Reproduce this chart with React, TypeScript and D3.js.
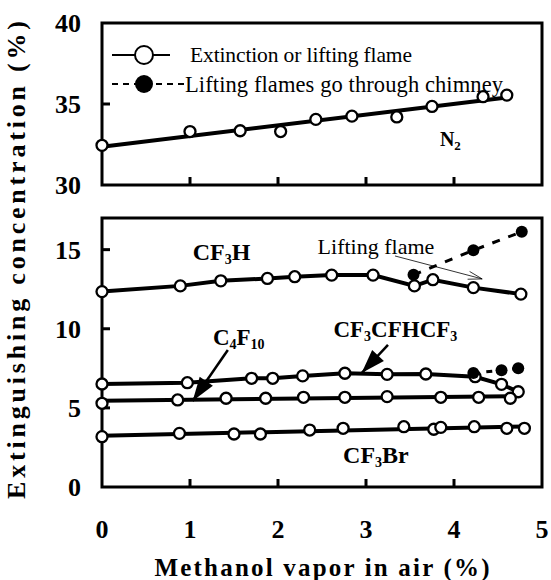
import React from 'react'
import * as d3 from 'd3'

// methanol vapor in air (%) and extinguishing concentration (%) per agent
const n2X = [0, 1.0, 1.57, 2.03, 2.43, 2.84, 3.35, 3.75, 4.33, 4.6]
const n2Y = [32.45, 33.3, 33.35, 33.3, 34.05, 34.25, 34.2, 34.85, 35.45, 35.55]

const cf3hX = [0, 0.89, 1.35, 1.88, 2.19, 2.61, 3.08, 3.55, 3.76, 4.22, 4.76]
const cf3hY = [12.35, 12.71, 13.03, 13.18, 13.29, 13.39, 13.39, 12.71, 13.1, 12.6, 12.19]
const cf3hLiftX = [3.54, 4.22, 4.77]
const cf3hLiftY = [13.41, 14.96, 16.13]

const hfpX = [0, 0.97, 1.7, 1.94, 2.28, 2.76, 3.24, 3.68, 4.24, 4.54, 4.73]
const hfpY = [6.51, 6.59, 6.87, 6.87, 7.02, 7.19, 7.12, 7.14, 6.97, 6.49, 6.02]
const hfpLiftX = [4.22, 4.54, 4.73]
const hfpLiftY = [7.2, 7.38, 7.5]

const c4f10X = [0, 0.86, 1.41, 1.86, 2.29, 2.76, 3.24, 3.85, 4.28, 4.64]
const c4f10Y = [5.29, 5.5, 5.61, 5.61, 5.67, 5.67, 5.71, 5.67, 5.67, 5.61]

const cf3brX = [0, 0.88, 1.5, 1.8, 2.36, 2.74, 3.43, 3.77, 3.85, 4.23, 4.6, 4.8]
const cf3brY = [3.18, 3.39, 3.35, 3.35, 3.6, 3.71, 3.81, 3.65, 3.77, 3.81, 3.71, 3.71]

const xTickLabels = [0, 1, 2, 3, 4, 5]
const topTickLabels = [30, 35, 40]
const botTickLabels = [0, 5, 10, 15]

const FONT = "'Liberation Serif', 'Times New Roman', serif"

function fit(xs: number[], ys: number[]) {
  const mx = d3.mean(xs)!, my = d3.mean(ys)!
  let sxy = 0, sxx = 0
  xs.forEach((v, i) => { sxy += (v - mx) * (ys[i] - my); sxx += (v - mx) * (v - mx) })
  const b = sxy / sxx
  const a = my - b * mx
  return [[0, a], [d3.max(xs)!, a + b * d3.max(xs)!]]
}

function arrowHead(x1: number, y1: number, x2: number, y2: number, len: number, half: number) {
  const ang = Math.atan2(y2 - y1, x2 - x1)
  const bx = x2 - len * Math.cos(ang), by = y2 - len * Math.sin(ang)
  const px = -Math.sin(ang) * half, py = Math.cos(ang) * half
  return [[x2, y2], [bx + px, by + py], [bx - px, by - py]]
}

export default function App() {
  const x = d3.scaleLinear().domain([0, 5]).range([102, 542])
  const yTop = d3.scaleLinear().domain([30, 40]).range([185, 23])
  const yBot = d3.scaleLinear().domain([0, 17]).range([487, 218])

  const lineTop = d3.line<number[]>().x(d => x(d[0])).y(d => yTop(d[1]))
  const lineBot = d3.line<number[]>().x(d => x(d[0])).y(d => yBot(d[1]))
  const zip = (a: number[], b: number[]) => a.map((v, i) => [v, b[i]])

  const openPts = (xs: number[], ys: number[], sc: any) =>
    xs.map((v, i) => (
      <circle key={i} cx={x(v)} cy={sc(ys[i])} r={5.5} fill="white" stroke="black" strokeWidth={2.3} />
    ))
  const fillPts = (xs: number[], ys: number[]) =>
    xs.map((v, i) => <circle key={i} cx={x(v)} cy={yBot(ys[i])} r={6} fill="black" />)

  const frame = (y0: number, y1: number) => (
    <rect x={x(0)} y={y1} width={x(5) - x(0)} height={y0 - y1} fill="none" stroke="black" strokeWidth={3} />
  )

  // annotation arrows (data units of the lower panel)
  const c4Arrow = [[1.43, 8.66], [1.03, 5.44]].map(d => [x(d[0]), yBot(d[1])])
  const hfpArrow = [[3.25, 8.98], [2.95, 7.2]].map(d => [x(d[0]), yBot(d[1])])
  const liftArrow = [[3.33, 14.6], [4.32, 13.15]].map(d => [x(d[0]), yBot(d[1])])

  const bold = { fontFamily: FONT, fontWeight: 'bold' as const }
  const sub = (t: string, size = 14) => <tspan fontSize={size} dy={4}>{t}</tspan>
  const up = (t: string) => <tspan dy={-4}>{t}</tspan>

  return (
    <svg width={551} height={580} style={{ position: 'absolute', left: 0, top: 0, background: 'white' }}>
      <rect width={551} height={580} fill="white" />
      {frame(yTop(30), yTop(40))}
      {frame(yBot(0), yBot(17))}

      {/* ticks */}
      {[1, 2, 3, 4].map(t => (
        <g key={t}>
          <line x1={x(t)} x2={x(t)} y1={yTop(30)} y2={yTop(30) - 8} stroke="black" strokeWidth={3} />
          <line x1={x(t)} x2={x(t)} y1={yBot(0)} y2={yBot(0) - 8} stroke="black" strokeWidth={3} />
        </g>
      ))}
      <line x1={x(0)} x2={x(0) + 8} y1={yTop(35)} y2={yTop(35)} stroke="black" strokeWidth={3} />
      {[5, 10, 15].map(t => (
        <line key={t} x1={x(0)} x2={x(0) + 8} y1={yBot(t)} y2={yBot(t)} stroke="black" strokeWidth={3} />
      ))}

      {/* tick labels */}
      {topTickLabels.map(t => (
        <text key={t} x={81} y={yTop(t) + 9} textAnchor="end" fontSize={26} {...bold}>{t}</text>
      ))}
      {botTickLabels.map(t => (
        <text key={t} x={81} y={yBot(t) + 9} textAnchor="end" fontSize={26} {...bold}>{t}</text>
      ))}
      {xTickLabels.map(t => (
        <text key={t} x={x(t)} y={538} textAnchor="middle" fontSize={26} {...bold}>{t}</text>
      ))}

      <text x={322} y={576} textAnchor="middle" fontSize={25} textLength={335} lengthAdjust="spacing" {...bold}>
        Methanol vapor in air (%)
      </text>
      <text transform="translate(25,260) rotate(-90)" textAnchor="middle" fontSize={26} textLength={478}
        lengthAdjust="spacing" {...bold}>
        Extinguishing concentration (%)
      </text>

      {/* N2 */}
      <path d={lineTop(fit(n2X, n2Y))!} stroke="black" strokeWidth={4} fill="none" />
      {openPts(n2X, n2Y, yTop)}
      <text x={x(3.84)} y={yTop(32.4)} fontSize={20} {...bold}>N{sub('2', 13)}</text>

      {/* legend */}
      <line x1={112} x2={170} y1={55} y2={55} stroke="black" strokeWidth={2} />
      <circle cx={144} cy={55} r={9} fill="white" stroke="black" strokeWidth={2} />
      <text x={190} y={62} fontSize={21.5} fontFamily={FONT} textLength={222} lengthAdjust="spacing">Extinction or lifting flame</text>
      <line x1={112} x2={184} y1={84} y2={84} stroke="black" strokeWidth={2} strokeDasharray="6,5" />
      <circle cx={144} cy={84} r={9} fill="black" />
      <text x={185} y={92} fontSize={22.5} fontFamily={FONT} textLength={318} lengthAdjust="spacing">Lifting flames go through chimney</text>

      {/* lower panel lines */}
      <path d={lineBot(zip(cf3hX, cf3hY))!} stroke="black" strokeWidth={4} fill="none" />
      <path d={lineBot(zip(hfpX, hfpY))!} stroke="black" strokeWidth={4} fill="none" />
      <path d={lineBot(fit(c4f10X, c4f10Y))!} stroke="black" strokeWidth={4} fill="none" />
      <path d={lineBot(fit(cf3brX, cf3brY))!} stroke="black" strokeWidth={4} fill="none" />
      <path d={lineBot(zip(cf3hLiftX, cf3hLiftY))!} stroke="black" strokeWidth={3} fill="none" strokeDasharray="8,9" />
      <path d={lineBot(zip(hfpLiftX, hfpLiftY))!} stroke="black" strokeWidth={3} fill="none" strokeDasharray="6,7" />

      {openPts(cf3hX, cf3hY, yBot)}
      {openPts(hfpX, hfpY, yBot)}
      {openPts(c4f10X, c4f10Y, yBot)}
      {openPts(cf3brX, cf3brY, yBot)}
      {fillPts(cf3hLiftX, cf3hLiftY)}
      {fillPts(hfpLiftX, hfpLiftY)}

      {/* arrows */}
      {[c4Arrow, hfpArrow].map((a, i) => (
        <g key={i}>
          <line x1={a[0][0]} y1={a[0][1]} x2={a[1][0]} y2={a[1][1]} stroke="black" strokeWidth={2.5} />
          <polygon points={arrowHead(a[0][0], a[0][1], a[1][0], a[1][1], 24, 8).join(' ')} fill="black" />
        </g>
      ))}
      <line x1={liftArrow[0][0]} y1={liftArrow[0][1]} x2={liftArrow[1][0]} y2={liftArrow[1][1]} stroke="black" strokeWidth={0.8} />
      <polyline
        points={(() => {
          const h = arrowHead(liftArrow[0][0], liftArrow[0][1], liftArrow[1][0], liftArrow[1][1], 14, 4)
          return [h[1], h[0], h[2]].join(' ')
        })()}
        fill="none" stroke="black" strokeWidth={0.8} />

      {/* labels */}
      <text x={x(1.03)} y={yBot(14.35)} fontSize={24} {...bold}>CF{sub('3')}{up('H')}</text>
      <text x={x(2.45)} y={yBot(14.73)} fontSize={22} fontFamily={FONT}>Lifting flame</text>
      <text x={x(2.63)} y={yBot(9.48)} fontSize={23} {...bold}>CF{sub('3')}{up('CFHCF')}{sub('3')}</text>
      <text x={x(1.26)} y={yBot(8.98)} fontSize={23} {...bold}>C{sub('4')}{up('F')}{sub('10')}</text>
      <text x={x(2.74)} y={yBot(1.52)} fontSize={24} {...bold}>CF{sub('3')}{up('Br')}</text>
    </svg>
  )
}
